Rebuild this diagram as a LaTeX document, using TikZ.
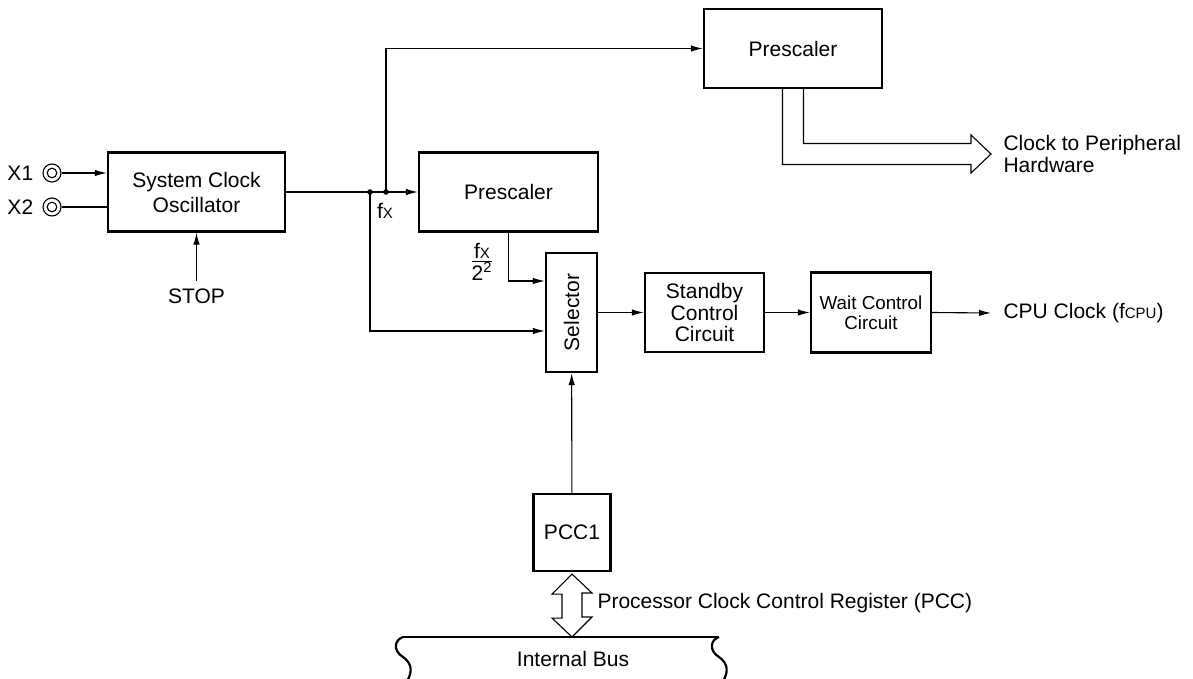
\documentclass[tikz,border=0pt]{standalone}
\usepackage{fontspec}
\setmainfont{Liberation Sans}
\usepackage{graphicx}
\usetikzlibrary{arrows.meta,calc,positioning}
\newcommand{\lowidx}[1]{{\fontsize{7.5}{8}\selectfont #1}}

\begin{document}
\begin{tikzpicture}[x=0.5pt, y=-0.5pt, line width=0.55pt,
    font=\fontsize{10.5}{11}\selectfont,
    box/.style={draw, line width=1.1pt, align=center},
    arr/.style={-{Latex[length=6pt,width=3.2pt]}},
    term/.style={circle, minimum size=9.6pt, inner sep=0pt, outer sep=0pt},
    outlab/.style={anchor=west, inner xsep=6pt, inner ysep=0pt, align=left}]
  \useasboundingbox (0,0) rectangle (1193,679);

  % blocks
  \node[box, minimum width=88.5pt, minimum height=39.5pt] (sco) at (196.5,192) {System Clock\\[1.5pt]Oscillator};
  \node[box, minimum width=89pt, minimum height=39.5pt] (pre1) at (793,48.5) {Prescaler};
  \node[box, minimum width=89.5pt, minimum height=39.5pt] (pre2) at (508.5,192) {Prescaler};
  \node[box, minimum width=25.5pt, minimum height=59.5pt] (sel) at (571.5,312.5) {\rotatebox{90}{Selector}};
  \node[box, minimum width=59.5pt, minimum height=39.5pt, font=\fontsize{10.5}{10.75}\selectfont] (stby) at (704.5,312.5) {Standby\\Control\\Circuit};
  \node[box, minimum width=60pt, minimum height=40pt, font=\fontsize{9.4}{10}\selectfont] (wait) at (871,312.5) {Wait Control\\Circuit};
  \node[box, minimum width=38.5pt, minimum height=38.5pt] (pcc) at (572,532.5) {PCC1};

  % inputs
  \node[term] (x1) at (52,173) {};
  \node[term] (x2) at (52,207) {};
  \foreach \t in {x1,x2}
    \draw (\t.center) circle[radius=4.5pt] (\t.center) circle[radius=2.4pt];
  \node[left=1pt of x1] (x1lab) {X1};
  \node[left=1pt of x2] (x2lab) {X2};
  \node (stop) at (196.5,296) {STOP};

  % labels
  \node (fxlab) at (385,211) {f\lowidx{X}};
  \node (fxq) at (482,262) {$\frac{\mbox{f\lowidx{X}}}{\mbox{2\textsuperscript{2}}}$};
  \node[outlab] (cpu) at (991,313) {CPU Clock (f\lowidx{CPU})};
  \node[outlab] (periph) at (991,154) {Clock to Peripheral\\Hardware};
  \node[anchor=west, inner sep=0pt] (pccl) at (597,603) {Processor Clock Control Register (PCC)};
  \node (bus) at (573,659) {Internal Bus};

  \coordinate (ja) at (370,192);
  \coordinate (jb) at (386,192);
  \coordinate (sela) at (sel.west |- 0,281);
  \coordinate (selb) at (sel.west |- 0,331);
  \coordinate (bustop) at (572,637);

  % connectors
  \draw[arr] (x1) -- (sco.west |- x1);
  \draw (x2) -- (sco.west |- x2);
  \draw[arr] (stop) -- (sco);
  \draw (sco.east) -- (ja);
  \draw[arr] (ja) -- (jb) -- (pre2);
  \draw[arr] (jb) |- (pre1);
  \draw[arr] (ja) |- (selb);
  \draw[arr] (pre2.south) |- (sela);
  \draw[arr] (sel) -- (stby);
  \draw[arr] (stby) -- (wait);
  \draw[arr] (wait.east) -- (cpu.west);
  \draw[arr] (pcc) -- (sel);
  \fill (ja) circle[radius=1.4pt] (jb) circle[radius=1.4pt];

  % hollow arrows
  \draw ($(pre1.south)+(-10.5,0)$) |- ($(periph.west)+(-20,10.5)$) -- ++(0,8.5) -- (periph.west)
    -- ++(-20,-19) -- ++(0,8.5) -| ($(pre1.south)+(10.5,0)$);
  \draw (pcc.south) ++(0,2) -- ++(-20,20) -- ++(10,0) -- ++(0,24) -- ++(-10,0) -- (bustop)
    -- ++(20,-20) -- ++(-10,0) -- ++(0,-24) -- ++(10,0) -- cycle;

  % internal bus
  \draw[line width=1.1pt] (403,637) -- (719,637);
  \foreach \bx in {0,316}
    \draw[line width=1.1pt] ({403+\bx},637) .. controls ({394+\bx},640) and ({393+\bx},651) .. ({403+\bx},657)
      .. controls ({413+\bx},664) and ({412+\bx},673) .. ({407+\bx},681);
\end{tikzpicture}
\end{document}
